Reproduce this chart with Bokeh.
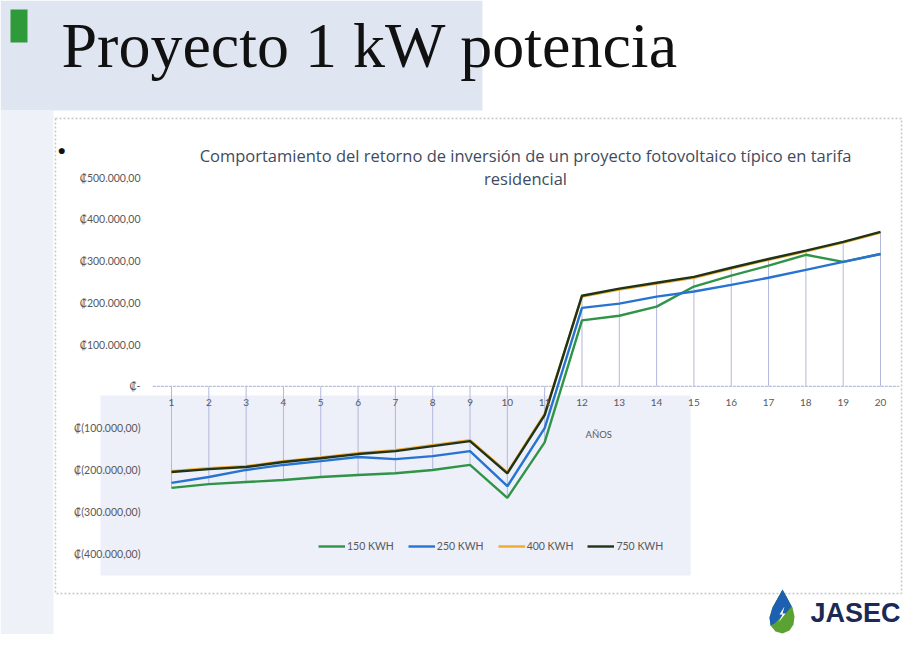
from bokeh.plotting import figure
from bokeh.models import (Range1d, Label, BoxAnnotation, PolyAnnotation, Legend, LegendItem)
from bokeh.core.properties import value
from bokeh.embed import file_html
from bokeh.resources import INLINE

# ---------------- data ----------------
years = list(range(1, 21))
year_labels = [str(y) for y in years]
kwh_150 = [-243000, -234000, -229000, -224000, -217000, -212000, -208000, -200000, -188000, -267000,
           -134000, 158000, 169000, 191000, 239000, 265000, 289000, 315000, 298000, 317000]
kwh_250 = [-231000, -217000, -200000, -188000, -179000, -169000, -174000, -167000, -155000, -239000,
           -100000, 188000, 198000, 215000, 227000, 243000, 260000, 279000, 298000, 317000]
kwh_400 = [-203000, -196000, -191000, -179000, -170000, -160000, -153000, -141000, -129000, -206000,
           -66000, 215000, 232000, 246000, 260000, 282000, 303000, 323000, 344000, 368000]
kwh_750 = [-205000, -198000, -193000, -181000, -172000, -162000, -155000, -143000, -131000, -208000,
           -69000, 217000, 234000, 248000, 262000, 284000, 305000, 325000, 346000, 370000]
series_names = ["150 KWH", "250 KWH", "400 KWH", "750 KWH"]
y_ticks = [-400000, -300000, -200000, -100000, 0, 100000, 200000, 300000, 400000, 500000]
y_tick_labels = ["₡(400.000,00)", "₡(300.000,00)", "₡(200.000,00)", "₡(100.000,00)", "₡-",
                 "₡100.000,00", "₡200.000,00", "₡300.000,00", "₡400.000,00", "₡500.000,00"]
slide_title = "Proyecto 1 kW potencia"
chart_title_1 = "Comportamiento del retorno de inversión de un proyecto fotovoltaico típico en tarifa"
chart_title_2 = "residencial"
x_axis_title = "AÑOS"

# ---------------- layout (picture pixels) ----------------
W, H = 903, 634
PX_Y1, PX_Y20 = 171.0, 880.0          # x of year 1 and year 20
PY_TOP, PY_BOT = 177.0, 553.0         # y of top / bottom value of chart area
V_TOP, V_BOT = 500000.0, -400000.0

dx = (PX_Y20 - PX_Y1) / 19.0
x0 = 1 - PX_Y1 / dx
x1 = 20 + (W - PX_Y20) / dx
dy = (PY_BOT - PY_TOP) / (V_TOP - V_BOT)
y1 = V_TOP + PY_TOP / dy
y0 = V_BOT - (H - PY_BOT) / dy


def sx(px):   # picture px -> frame screen x
    return px


def sy(py):   # picture px -> frame screen y (y up)
    return H - py


def dxv(px):  # picture px -> data x
    return 1 + (px - PX_Y1) / dx


p = figure(width=W, height=H, output_backend="svg", toolbar_location=None,
           x_range=Range1d(x0, x1), y_range=Range1d(y0, y1),
           x_axis_type=None, y_axis_type=None,
           min_border=0, background_fill_color="white", border_fill_color="white")
p.outline_line_color = None
p.grid.visible = False


def box(l, r, t, b, **kw):
    return BoxAnnotation(left=sx(l), right=sx(r), top=sy(t), bottom=sy(b),
                         left_units="screen", right_units="screen", top_units="screen",
                         bottom_units="screen", **kw)


# ---------------- page decorations ----------------
p.add_layout(box(0, 482, 0, 110, fill_color="#dfe5f1", fill_alpha=1, line_color=None, level="underlay"))
p.add_layout(box(0, 53, 110, 650, fill_color="#eef1f8", fill_alpha=1, line_color=None, level="underlay"))
p.add_layout(box(100, 690, 395, 575, fill_color="#e8ebf7", fill_alpha=0.8, line_color=None, level="underlay"))
p.add_layout(box(10, 27, 9, 42, fill_color="#2e9a3a", fill_alpha=1, line_color=None))
p.add_layout(box(55, 901, 118, 593, fill_alpha=0, line_color="#444444", line_width=1.5,
                 line_dash="2 2", level="underlay"))

p.add_layout(Label(x=sx(61), y=sy(45), x_units="screen", y_units="screen", text=slide_title,
                   text_font="Liberation Serif", text_font_size="64px", text_color="#111111",
                   text_baseline="middle"))
p.add_layout(Label(x=sx(57), y=sy(149), x_units="screen", y_units="screen", text="●",
                   text_font_size="14px", text_color="#111111", text_baseline="middle"))

p.add_layout(Label(x=sx(525), y=sy(155), x_units="screen", y_units="screen", text=chart_title_1,
                   text_font="Open Sans", text_font_size="16.5px", text_color="#3e4b5e",
                   text_align="center", text_baseline="middle"))
p.add_layout(Label(x=sx(525), y=sy(178), x_units="screen", y_units="screen", text=chart_title_2,
                   text_font="Open Sans", text_font_size="16.5px", text_color="#3e4b5e",
                   text_align="center", text_baseline="middle"))

# logo (nudged up/left to stay inside the canvas)
LX, LY = -4, -8
drop_x = [786, 791, 796, 798, 797, 793, 786, 779, 774, 773, 776, 781]
drop_y = [597, 606, 615, 624, 632, 638, 641, 639, 633, 625, 615, 606]
p.add_layout(PolyAnnotation(xs=[sx(v + LX) for v in drop_x], ys=[sy(v + LY) for v in drop_y],
                            xs_units="screen", ys_units="screen", fill_color="#5aa232",
                            fill_alpha=1, line_color=None))
blue_x = [786, 791, 795, 790, 784, 778, 774, 773, 776, 781]
blue_y = [597, 606, 614, 620, 625, 631, 633, 625, 615, 606]
p.add_layout(PolyAnnotation(xs=[sx(v + LX) for v in blue_x], ys=[sy(v + LY) for v in blue_y],
                            xs_units="screen", ys_units="screen", fill_color="#1d5fb0",
                            fill_alpha=1, line_color=None))
bolt_x = [788, 783, 786, 782, 789, 786]
bolt_y = [614, 622, 622, 630, 621, 621]
p.add_layout(PolyAnnotation(xs=[sx(v + LX) for v in bolt_x], ys=[sy(v + LY) for v in bolt_y],
                            xs_units="screen", ys_units="screen", fill_color="white",
                            fill_alpha=1, line_color=None))
p.add_layout(Label(x=sx(810), y=sy(612), x_units="screen", y_units="screen", text="JASEC",
                   text_font="Liberation Sans", text_font_style="bold", text_font_size="27px",
                   text_color="#1b2a55", text_baseline="middle"))

# ---------------- chart ----------------
# value-axis labels, placed through the y scale
p.text(x=[dxv(140)] * len(y_ticks), y=y_ticks, text=y_tick_labels, text_align="right",
       text_baseline="middle", text_font=value("Lato"), text_font_size="10.5px",
       text_color="#595959")

all_series = [kwh_150, kwh_250, kwh_400, kwh_750]
extreme = []
for i in range(len(years)):
    vals = [s[i] for s in all_series]
    extreme.append(min(vals) if max(vals) < 0 else max(vals))
p.segment(x0=years, y0=[0] * len(years), x1=years, y1=extreme, line_color="#b3b8dd", line_width=1)
p.segment(x0=[0.5], y0=[0], x1=[20.5], y1=[0], line_color="#b9bddc", line_width=1.2,
          line_dash="3 1")

colors = ["#2f9447", "#2673d2", "#f2aa2a", "#1f3318"]
renderers = []
for s, c in zip(all_series, colors):
    renderers.append(p.line(years, s, line_color=c, line_width=2.4))

p.text(x=years, y=[0] * len(years), text=year_labels, text_align="center", text_baseline="middle",
       y_offset=16, text_font=value("Lato"), text_font_size="10px", text_color="#595959")
p.add_layout(Label(x=12.45, y=-115000, text=x_axis_title, text_font="Lato",
                   text_font_size="9.5px", text_color="#595959", text_align="center",
                   text_baseline="middle"))

legend = Legend(items=[LegendItem(label=n, renderers=[r]) for n, r in zip(series_names, renderers)],
                orientation="horizontal", location=(sx(318), sy(552)), glyph_width=27,
                glyph_height=10, label_standoff=2, label_width=46, spacing=14, padding=0, margin=0,
                label_text_font="Lato", label_text_font_size="10.5px", label_text_color="#595959",
                border_line_color=None, background_fill_alpha=0)
p.add_layout(legend)

open("out.html", "w").write(file_html(p, INLINE))
